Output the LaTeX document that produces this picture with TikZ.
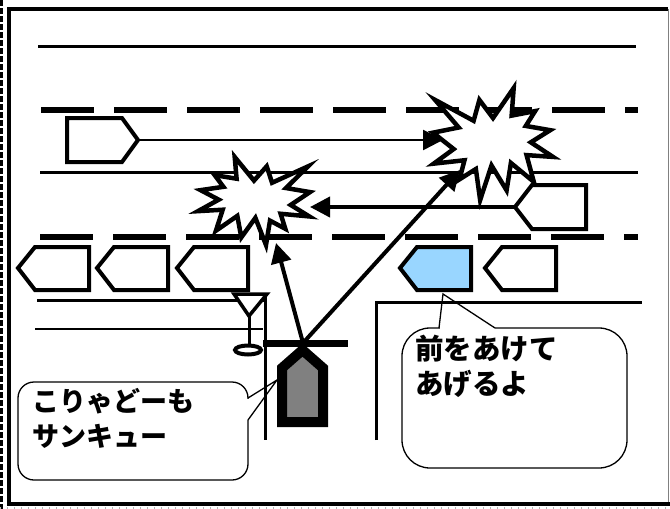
\documentclass[tikz,border=0pt]{standalone}
\usepackage{fontspec}
\newfontfamily\jpfont{Noto Sans CJK JP}
\usetikzlibrary{arrows.meta}

% Outline of an explosion, in a 216 x 216 box
\newcommand{\boomoutline}{(108,58) -- (145.22,0) -- (141.55,53.25) -- (183.80,44.57)
  -- (167.02,73.15) -- (210.97,81.37) -- (176.07,104.75) -- (216,132.90)
  -- (168.37,129.42) -- (181.45,180.95) -- (140.20,144.57) -- (132.47,197.37)
  -- (105.32,149.35) -- (84.85,216) -- (77.15,156.27) -- (47.62,176.17)
  -- (56.67,139.37) -- (1.35,145.87) -- (37.22,117.75) -- (0,86.15)
  -- (46.27,76.17) -- (3.70,22.95) -- (73.12,63.20) -- (83.52,22.95) -- cycle}

\begin{document}
\begin{tikzpicture}[x=1pt,y=-1pt,
  roadline/.style={line width=3pt},
  lanedash/.style={line width=6pt, dash pattern=on 53pt off 20pt},
  carbody/.style={draw, line width=4pt, fill=white, line join=miter},
  boom/.style={draw, line width=4.5pt, fill=white, line join=miter},
  motion/.style={line width=4pt, -{Triangle[length=20pt,width=20pt]}},
  bubble/.style={draw, line width=1.3pt, fill=white, inner sep=0pt},
  pointer/.style={line width=1.3pt, line join=miter},
  speech/.style={font=\jpfont\bfseries\fontsize{27}{35}\selectfont,
    align=left, inner sep=0pt, anchor=north west}]
\useasboundingbox (0,0) rectangle (670,509);

% frame
\draw[line width=2.5pt, dash pattern=on 6pt off 2pt] (1.3,0) -- (1.3,509);
\draw[gray!60, line width=2pt, dash pattern=on 1pt off 6pt] (0,508) -- (670,508);
\draw[gray, line width=1pt] (668,9) -- (668,504);
\draw[line width=4pt] (670,504) -- (9,504) -- (9,9) -- (668,9);

% road markings
\draw[line width=3.5pt] (38,46.7) -- (636,46.7);
\draw[lanedash] (41,110) -- (638,110);
\draw[roadline] (40,172) -- (638,172);
\draw[lanedash] (40,237) -- (638,237);
\draw[roadline] (37,300) -- (265,300);
\draw[line width=2.5pt] (35,329) -- (263,329);
\draw[roadline] (376,440) -- (376,302) -- (642,302);

% collisions
\begin{scope}[shift={(310,157)}, xscale=-0.5185, yscale=0.4074]
  \path[boom] \boomoutline;
\end{scope}
\begin{scope}[shift={(433,88)}, xscale=0.5556, yscale=0.5185]
  \path[boom] \boomoutline;
\end{scope}

% arrow end points
\coordinate (topTip) at (138,140);
\coordinate (hitRightL) at (443,140);
\coordinate (oncomingTip) at (515,207);
\coordinate (hitLeftR) at (310,207);
\coordinate (egoNose) at (303,343);
\coordinate (hitLeftB) at (276,243);
\coordinate (hitRightB) at (460,170);

\draw[motion, line width=2.6pt] (topTip) -- (hitRightL);
\draw[motion] (oncomingTip) -- (hitLeftR);
\draw[motion] (egoNose) -- (hitLeftB);
\draw[motion] (egoNose) -- (hitRightB);

% vehicles
\draw[carbody] (67,118) -- (122,118) -- (topTip) -- (122,162) -- (67,162) -- cycle;
\draw[carbody] (oncomingTip) -- (532,185) -- (586,185) -- (586,229) -- (532,229) -- cycle;
\foreach \tx/\col in {18/white, 97/white, 177/white, 400/{blue!40!cyan!40}, 485/white}{
  \draw[carbody, fill=\col] (\tx,268) -- ++(17,-21) -- ++(54,0) -- ++(0,43) -- ++(-54,0) -- cycle;
}

% crossing sign
\draw[line width=3.5pt, fill=white, line join=miter] (234,294) -- (267,294) -- (249,316) -- cycle;
\draw[line width=3pt] (249,316) -- (249,345);
\draw[line width=4pt] (248,350) ellipse [x radius=13, y radius=4.5];
\draw[roadline] (265,293) -- (265,440);

% stop bar and own car
\draw[line width=7pt] (263,343) -- (348,343);
\draw[line width=10pt, fill=gray, line join=miter]
  (282,422) -- (282,368) -- (302.5,350) -- (323,368) -- (323,422) -- cycle;

% speech bubbles
\node[bubble, rounded corners=16pt, minimum width=230pt, minimum height=98pt] (sayA) at (133,431) {};
\fill[white] (246.3,398.5) rectangle (249.7,419.5);
\coordinate (egoSide) at (277,380);
\draw[pointer] (248,398) -- (egoSide) -- (248,420);
\node[speech] (textA) at (32,388) {こりゃどーも\\サンキュー};

\node[bubble, rounded corners=28pt, minimum width=225pt, minimum height=140pt] (sayB) at (514.5,398) {};
\fill[white] (439.5,326.3) rectangle (494.5,329.7);
\coordinate (blueBottom) at (443,294);
\draw[pointer] (439,328) -- (blueBottom) -- (495,328);
\node[speech, font=\jpfont\bfseries\fontsize{28.5}{35}\selectfont] (textB) at (415,335) {前をあけて\\あげるよ};
\end{tikzpicture}
\end{document}
